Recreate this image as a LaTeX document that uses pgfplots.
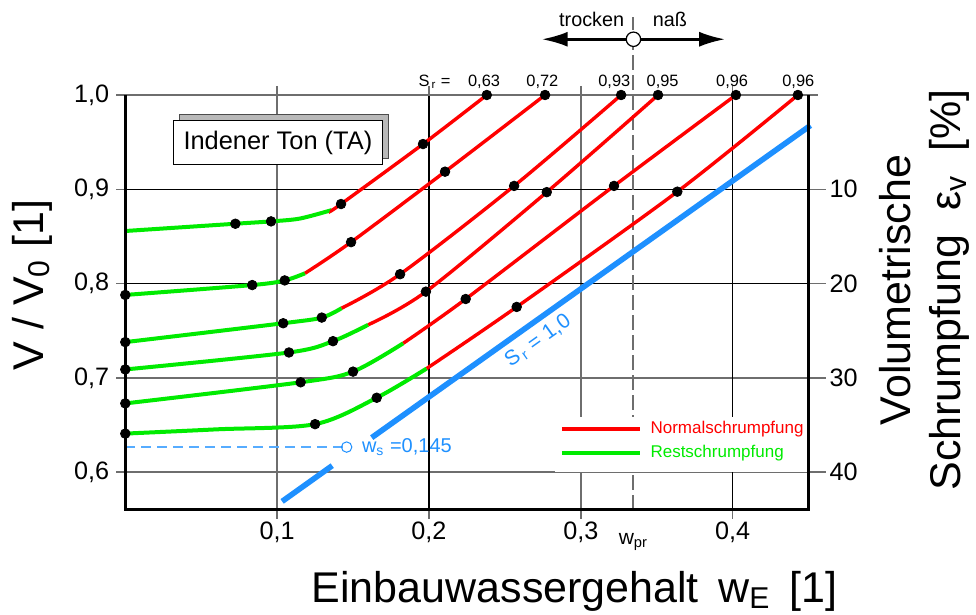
\documentclass[border=0pt]{standalone}
\usepackage{fontspec}
\setmainfont{Liberation Sans}
\usepackage{pgfplots}
\pgfplotsset{compat=1.18}
\usetikzlibrary{arrows.meta}

\definecolor{nred}{RGB}{255,0,0}
\definecolor{rgreen}{RGB}{0,235,0}
\definecolor{srblue}{RGB}{30,144,255}
\definecolor{gridgray}{RGB}{110,110,110}
\newcommand*{\fsz}[1]{\fontsize{#1}{#1}\selectfont}

\begin{document}
\begin{tikzpicture}
\path[use as bounding box] (-62.65pt,-52.5pt) rectangle (425.35pt,255pt);

% right-hand scale: volumetric shrinkage in percent
\begin{axis}[
  at={(0pt,0pt)}, anchor=south west,
  scale only axis, width=341.6pt, height=207.5pt,
  xmin=0, xmax=0.45, ymin=0, ymax=44, y dir=reverse,
  axis x line=none, axis y line*=right,
  y axis line style={draw=none},
  ytick={10,20,30,40}, yticklabels={10,20,30,40},
  tick align=outside, major tick length=8.5pt,
  tick style={gridgray, line width=0.8pt},
  yticklabel style={font=\fsz{12.6}, xshift=-1.5pt},
]
\end{axis}

\begin{axis}[
  at={(0pt,0pt)}, anchor=south west,
  scale only axis, width=341.6pt, height=207.5pt,
  xmin=0, xmax=0.45, ymin=0.56, ymax=1.0,
  clip=false,
  axis line style={draw=none},
  xtick={0.1,0.3}, xticklabels={{0,1},{0,3}},
  extra x ticks={0.2,0.4}, extra x tick labels={{0,2},{0,4}},
  ytick={0.6,0.7,1.0}, yticklabels={{0,6},{0,7},{1,0}},
  extra y ticks={0.8,0.9}, extra y tick labels={{0,8},{0,9}},
  grid=major,
  major grid style={gridgray, line width=0.9pt},
  extra tick style={major grid style={black, line width=0.6pt}},
  tick align=outside,
  major tick length=4.5pt,
  tick style={gridgray, line width=0.8pt},
  xticklabel style={font=\fsz{12.6}, yshift=2pt},
  yticklabel style={font=\fsz{12.6}},
]

% dividing line between dry and wet side (w_pr)
\draw[gridgray, line width=1pt, dash pattern=on 7.5pt off 2.5pt]
  (axis cs:0.3347,0.56) -- (axis cs:0.3347,1.0827);
\node[anchor=north, font=\fsz{10.5}, inner sep=0pt] at ([yshift=-11.5pt]axis cs:0.3347,0.56) {w\textsubscript{pr}};

% trocken / nass arrow
\draw[line width=1.35pt, {Latex[length=13pt,width=7.5pt]}-{Latex[length=13pt,width=7.5pt]}]
  (axis cs:0.2743,1.0591) -- (axis cs:0.3951,1.0591);
\draw[fill=white, line width=0.6pt] (axis cs:0.3347,1.0591) circle (3.6pt);
\node[anchor=base, font=\fsz{9.9}, inner sep=0pt] at (axis cs:0.3072,1.0721) {trocken};
\node[anchor=base, font=\fsz{9.9}, inner sep=0pt] at (axis cs:0.3587,1.0721) {naß};

% initial degree of saturation of each sample
\node[anchor=base, font=\fsz{8.2}, inner sep=0pt] at (axis cs:0.2037,1.0085) {S\textsubscript{\,r} =};
\node[anchor=base, font=\fsz{8.2}, inner sep=0pt] at (axis cs:0.2363,1.0085) {0,63};
\node[anchor=base, font=\fsz{8.2}, inner sep=0pt] at (axis cs:0.2747,1.0085) {0,72};
\node[anchor=base, font=\fsz{8.2}, inner sep=0pt] at (axis cs:0.3221,1.0085) {0,93};
\node[anchor=base, font=\fsz{8.2}, inner sep=0pt] at (axis cs:0.3539,1.0085) {0,95};
\node[anchor=base, font=\fsz{8.2}, inner sep=0pt] at (axis cs:0.3997,1.0085) {0,96};
\node[anchor=base, font=\fsz{8.2}, inner sep=0pt] at (axis cs:0.4433,1.0085) {0,96};

% title box with shadow
\node[fill=gray!55, draw=gray!60!black, line width=0.5pt, minimum width=104.5pt, minimum height=21.65pt, inner sep=0pt]
  at ([xshift=3pt,yshift=3pt]axis cs:0.1005,0.9495) {};
\node[fill=white, draw=black, line width=0.5pt, minimum width=104.5pt, minimum height=21.65pt, inner sep=0pt, font=\fsz{12.7}]
  at (axis cs:0.1005,0.9495) {Indener Ton (TA)};

% legend
\fill[white] (axis cs:0.283,0.6006) rectangle (axis cs:0.4495,0.6585);
\draw[nred, line width=2pt] (axis cs:0.2875,0.6458) -- (axis cs:0.339,0.6458);
\node[anchor=west, text=nred, font=\fsz{8.5}, inner sep=0pt] at (axis cs:0.3457,0.6458) {Normalschrumpfung};
\draw[rgreen, line width=2pt] (axis cs:0.2875,0.6200) -- (axis cs:0.339,0.6200);
\node[anchor=west, text=rgreen, font=\fsz{8.5}, inner sep=0pt] at (axis cs:0.3457,0.6200) {Restschrumpfung};

% shrinkage limit w_s
\draw[srblue!75, line width=0.6pt, dash pattern=on 5pt off 3pt] (axis cs:0,0.6267) -- (axis cs:0.1458,0.6267);
\draw[srblue, line width=0.5pt] (axis cs:0.1458,0.6267) circle (2.6pt);
\node[anchor=west, text=srblue, font=\fsz{10}, inner sep=0pt] at ([xshift=7.5pt]axis cs:0.1458,0.6267) {w\textsubscript{s} =0,145};

% saturation line S_r = 1
\addplot[srblue, line width=2.8pt] coordinates {(0.1033,0.5691) (0.1363,0.6070)};
\addplot[srblue, line width=2.8pt] coordinates {(0.1623,0.6367) (0.4513,0.9677)};
\node[text=srblue, rotate=35.4, font=\fsz{10.5}] at (axis cs:0.2719,0.7390) {S\textsubscript{\,r} = 1,0};

% residual shrinkage (green) and normal shrinkage (red)
\addplot[rgreen, line width=2pt, smooth] coordinates {(0,0.8558) (0.0725,0.8635) (0.096,0.866) (0.115,0.869) (0.136,0.878)};
\addplot[nred, line width=1.7pt, smooth] coordinates {(0.136,0.878) (0.1421,0.8844) (0.1961,0.948) (0.2381,1.0)};

\addplot[rgreen, line width=2pt, smooth] coordinates {(0,0.788) (0.0836,0.7985) (0.105,0.8034) (0.1184,0.811)};
\addplot[nred, line width=1.7pt, smooth] coordinates {(0.1184,0.811) (0.1487,0.844) (0.2106,0.9187) (0.2765,1.0)};

\addplot[rgreen, line width=2pt, smooth] coordinates {(0,0.738) (0.104,0.758) (0.1294,0.764) (0.1425,0.774)};
\addplot[nred, line width=1.7pt, smooth] coordinates {(0.1425,0.774) (0.181,0.810) (0.2561,0.9036) (0.3266,1.0)};

\addplot[rgreen, line width=2pt, smooth] coordinates {(0,0.709) (0.1078,0.727) (0.1368,0.739) (0.160,0.7564)};
\addplot[nred, line width=1.7pt, smooth] coordinates {(0.160,0.7564) (0.198,0.7915) (0.2776,0.897) (0.3509,1.0)};

\addplot[rgreen, line width=2pt, smooth] coordinates {(0,0.673) (0.1155,0.6954) (0.150,0.7067) (0.1831,0.7368)};
\addplot[nred, line width=1.7pt, smooth] coordinates {(0.1831,0.7368) (0.2242,0.7837) (0.3219,0.9036) (0.4022,1.0)};

\addplot[rgreen, line width=2pt, smooth] coordinates {(0,0.641) (0.06,0.6455) (0.125,0.651) (0.1656,0.679) (0.1985,0.710)};
\addplot[nred, line width=1.7pt, smooth] coordinates {(0.1985,0.710) (0.2578,0.7753) (0.3636,0.8975) (0.443,1.0)};

% frame
\draw[gridgray, line width=1pt] (axis cs:0,1.0) -- (axis cs:0.45,1.0);
\draw[black, line width=1.5pt] (axis cs:0,1.0) -- (axis cs:0,0.56) -- (axis cs:0.45,0.56) -- (axis cs:0.45,1.0);

% measured points
\addplot[only marks, mark=*, mark size=2.4pt, black] coordinates {
  (0.0725,0.8635) (0.096,0.866) (0.1421,0.8844) (0.1961,0.948) (0.2381,1.0)
  (0,0.788) (0.0836,0.7985) (0.105,0.8034) (0.1487,0.844) (0.2106,0.9187) (0.2765,1.0)
  (0,0.738) (0.104,0.758) (0.1294,0.764) (0.181,0.810) (0.2561,0.9036) (0.3266,1.0)
  (0,0.709) (0.1078,0.727) (0.1368,0.739) (0.198,0.7915) (0.2776,0.897) (0.3509,1.0)
  (0,0.673) (0.1155,0.6954) (0.150,0.7067) (0.2242,0.7837) (0.3219,0.9036) (0.4022,1.0)
  (0,0.641) (0.125,0.651) (0.1656,0.679) (0.2578,0.7753) (0.3636,0.8975) (0.443,1.0)
};

% axis titles
\node[rotate=90, anchor=base, font=\fsz{21.5}, inner sep=0pt] at (axis cs:-0.0542,0.7985) {V / V\textsubscript{0} [1]};
\node[anchor=base, font=\fsz{21.5}, inner sep=0pt] at (axis cs:0.2960,0.4624) {Einbauwassergehalt\hspace{0.45em}w\textsubscript{E}\hspace{0.45em}[1]};
\node[rotate=90, align=center, font=\fontsize{21.5}{25}\selectfont, inner sep=0pt] at (axis cs:0.5262,0.7932)
  {Volumetrische\\Schrumpfung\ \ ε\textsubscript{v}\ \ [\%]};
\end{axis}
\end{tikzpicture}
\end{document}
